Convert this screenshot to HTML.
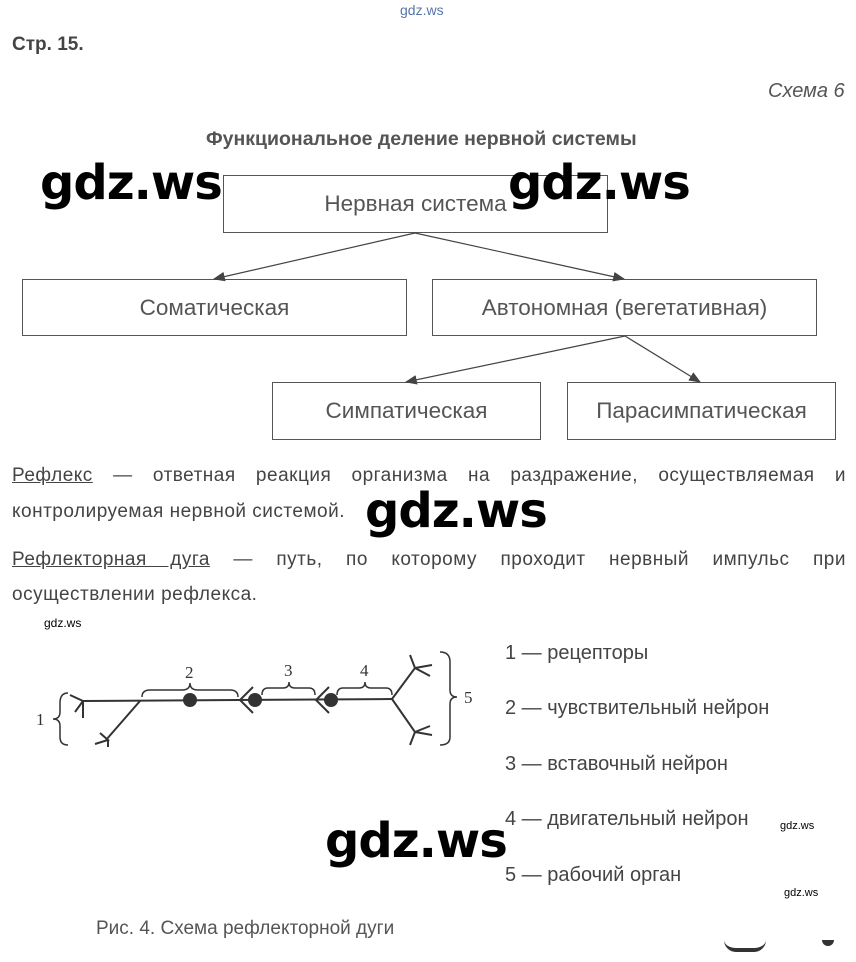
<!DOCTYPE html><html><head><meta charset="utf-8"><style>
body{margin:0;width:856px;height:962px;background:#fff;position:relative;font-family:"Liberation Sans",sans-serif;color:#444;overflow:hidden}
.a{position:absolute;white-space:nowrap}
.box{position:absolute;border:1px solid #555;display:flex;align-items:center;justify-content:center;font-size:22.5px;color:#555;box-sizing:border-box}
.wm{position:absolute;font-family:"DejaVu Sans","Liberation Sans",sans-serif;font-weight:bold;font-size:48px;color:#000;letter-spacing:-1px}
.l{position:absolute;left:12px;width:834px;font-size:19px;letter-spacing:0.5px;color:#444;white-space:nowrap}
.j{text-align:justify;text-align-last:justify}
.u{text-decoration:underline}
.leg{position:absolute;left:505px;font-size:20px;color:#444}
</style></head><body>
<div class="a" style="left:400px;top:2px;font-size:14px;color:#57a">gdz.ws</div>
<div class="a" style="left:12px;top:34px;font-size:19px;font-weight:bold;color:#444">Стр. 15.</div>
<div class="a" style="left:768px;top:80px;font-size:20px;font-style:italic;color:#555">Схема 6</div>
<div class="a" style="left:206px;top:128px;font-size:19.5px;font-weight:bold;color:#555">Функциональное деление нервной системы</div>
<div class="box" style="left:223px;top:175px;width:385px;height:58px">Нервная система</div>
<div class="box" style="left:22px;top:279px;width:385px;height:57px">Соматическая</div>
<div class="box" style="left:432px;top:279px;width:385px;height:57px">Автономная (вегетативная)</div>
<div class="box" style="left:272px;top:382px;width:269px;height:58px">Симпатическая</div>
<div class="box" style="left:567px;top:382px;width:269px;height:58px">Парасимпатическая</div>
<svg class="a" style="left:0;top:0" width="856" height="962">
<defs><marker id="m" markerWidth="10" markerHeight="8" refX="9" refY="4" orient="auto"><path d="M0,0 L10,4 L0,8 Z" fill="#444"/></marker></defs>
<g stroke="#444" stroke-width="1.2" fill="none">
<line x1="415" y1="233" x2="214" y2="279" marker-end="url(#m)"/>
<line x1="415" y1="233" x2="624" y2="279" marker-end="url(#m)"/>
<line x1="625" y1="336" x2="406" y2="382" marker-end="url(#m)"/>
<line x1="625" y1="336" x2="700" y2="382" marker-end="url(#m)"/>
</g>
<g stroke="#333" stroke-width="2" fill="none">
<line x1="83" y1="701" x2="392" y2="699"/>
<line x1="140" y1="701" x2="106" y2="740"/>
<path d="M70,695 L83,701 L75,712 M83,701 L83,718"/>
<path d="M100,733 L108,740 L95,744 M108,740 L108,747"/>
<path d="M253,687 L240,700 L253,713"/>
<path d="M329,687 L316,700 L329,713"/>
<path d="M392,699 L415,668 L410,655 M415,668 L432,665 M415,668 L430,676"/>
<path d="M392,699 L415,732 L410,745 M415,732 L432,735 M415,732 L430,726"/>
<path d="M142,697 Q142,690 150,690 L182,690 Q190,690 190,683 Q190,690 198,690 L230,690 Q238,690 238,697" stroke-width="1.5"/>
<path d="M262,695 Q262,688 268,688 L283,688 Q289,688 289,682 Q289,688 295,688 L309,688 Q315,688 315,695" stroke-width="1.5"/>
<path d="M337,695 Q337,688 343,688 L359,688 Q365,688 365,682 Q365,688 371,688 L386,688 Q392,688 392,695" stroke-width="1.5"/>
<path d="M68,693 Q60,693 60,703 L60,712 Q60,719 53,719 Q60,719 60,726 L60,737 Q60,745 68,745" stroke-width="1.5"/>
<path d="M440,652 Q450,652 450,662 L450,690 Q450,697 457,697 Q450,697 450,704 L450,737 Q450,745 440,745" stroke-width="1.5"/>
</g>
<g fill="#333"><circle cx="190" cy="700" r="7"/><circle cx="255" cy="700" r="7"/><circle cx="331" cy="700" r="7"/></g>
<g font-family="Liberation Serif,serif" font-size="17" fill="#333">
<text x="185" y="678">2</text><text x="284" y="676">3</text><text x="360" y="676">4</text><text x="36" y="725">1</text><text x="464" y="703">5</text></g>
</svg>
<div class="l j" style="top:465px"><span class="u">Рефлекс</span> — ответная реакция организма на раздражение, осуществляемая и</div>
<div class="l" style="top:501px">контролируемая нервной системой.</div>
<div class="l j" style="top:549px"><span class="u">Рефлекторная дуга</span> — путь, по которому проходит нервный импульс при</div>
<div class="l" style="top:584px">осуществлении рефлекса.</div>
<div class="leg" style="top:642px">1 — рецепторы</div>
<div class="leg" style="top:697px">2 — чувствительный нейрон</div>
<div class="leg" style="top:753px">3 — вставочный нейрон</div>
<div class="leg" style="top:808px">4 — двигательный нейрон</div>
<div class="leg" style="top:864px">5 — рабочий орган</div>
<div class="a" style="left:96px;top:918px;font-size:19px;color:#555">Рис. 4. Схема рефлекторной дуги</div>
<div class="wm" style="left:40px;top:155px">gdz.ws</div>
<div class="wm" style="left:508px;top:155px">gdz.ws</div>
<div class="wm" style="left:365px;top:483px">gdz.ws</div>
<div class="wm" style="left:325px;top:813px">gdz.ws</div>
<div class="a" style="left:44px;top:616px;font-size:12px;color:#000">gdz.ws</div>
<div class="a" style="left:780px;top:820px;font-size:11px;color:#000">gdz.ws</div>
<div class="a" style="left:784px;top:887px;font-size:11px;color:#000">gdz.ws</div>
<div class="a" style="left:724px;top:940px;width:42px;height:8px;border-bottom:4px solid #333;border-radius:0 0 20px 20px"></div>
<div class="a" style="left:822px;top:940px;width:12px;height:6px;background:#333;border-radius:0 0 8px 8px"></div>
</body></html>
